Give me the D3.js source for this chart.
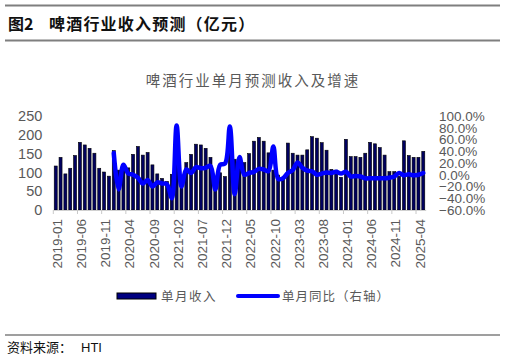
<!DOCTYPE html>
<html><head><meta charset="utf-8">
<script src="https://cdn.jsdelivr.net/npm/d3@7"></script>
<style>body{margin:0;background:#fff}svg{display:block}</style>
</head><body><svg id="c" width="506" height="359"></svg>
<script>
const months = ["2019-01","2019-02","2019-03","2019-04","2019-05","2019-06","2019-07","2019-08","2019-09","2019-10","2019-11","2019-12",
"2020-01","2020-02","2020-03","2020-04","2020-05","2020-06","2020-07","2020-08","2020-09","2020-10","2020-11","2020-12",
"2021-01","2021-02","2021-03","2021-04","2021-05","2021-06","2021-07","2021-08","2021-09","2021-10","2021-11","2021-12",
"2022-01","2022-02","2022-03","2022-04","2022-05","2022-06","2022-07","2022-08","2022-09","2022-10","2022-11","2022-12",
"2023-01","2023-02","2023-03","2023-04","2023-05","2023-06","2023-07","2023-08","2023-09","2023-10","2023-11","2023-12",
"2024-01","2024-02","2024-03","2024-04","2024-05","2024-06","2024-07","2024-08","2024-09","2024-10","2024-11","2024-12",
"2025-01","2025-02","2025-03","2025-04","2025-05"];
const revenue = [117,140,96,111,145,180,173,164,151,111,101,90,
158,106,115,112,148,169,146,153,120,96,84,76,
95,195,93,126,148,175,173,164,140,71,99,89,
173,135,122,126,150,183,193,183,152,106,93,86,
178,151,146,146,160,195,191,179,159,108,106,87,
188,142,142,140,151,180,176,166,146,102,102,90,
184,145,140,140,156];
const yoy = [null,null,null,null,null,null,null,null,null,null,null,null,
37,-25,17,2,0,-5,-15,-9,-20,-13,-15,-16,
-40,84,-20,9,3,13,11,12,15,-25,17,19,
82,-33,30,0,3,5,10,9,6,48,-7,-6,
3,8,21,12,7,6,0,2,4,3,5,2,
5,-3,-2,-3,-6,-6,-6,-6,-6,-5,-3,3,
-1,1,-1,0,3];
const leftTicks = [0,50,100,150,200,250];
const rightTicks = [-60,-40,-20,0,20,40,60,80,100];
const labelEvery = 5;

const svg = d3.select("#c");
const sans = "'Liberation Sans', Arial, sans-serif";
const cjk = "'Noto Sans CJK SC', sans-serif";

// header rules & title
svg.append("line").attr("x1",5).attr("x2",500).attr("y1",5.5).attr("y2",5.5).attr("stroke","#7f7f7f").attr("stroke-width",2);
svg.append("line").attr("x1",5).attr("x2",500).attr("y1",40.5).attr("y2",40.5).attr("stroke","#7f7f7f").attr("stroke-width",2);
svg.append("text").attr("x",8).attr("y",30).attr("font-family",cjk).attr("font-weight","bold").attr("font-size",16).attr("fill","#111").text("图2");
svg.append("text").attr("x",49).attr("y",30).attr("font-family",cjk).attr("font-weight","bold").attr("font-size",16).attr("letter-spacing",1.2).attr("fill","#111").text("啤酒行业收入预测（亿元）");

// chart title
svg.append("text").attr("x",253).attr("y",86).attr("text-anchor","middle").attr("font-family",cjk).attr("font-size",14.5).attr("letter-spacing",2).attr("fill","#595959").text("啤酒行业单月预测收入及增速");

const x0 = 53.3, x1 = 425.7, yTop = 116, yBot = 210;
const x = d3.scaleBand().domain(months).range([x0,x1]).paddingInner(0.38).paddingOuter(0.19);
const yL = d3.scaleLinear().domain([0,250]).range([yBot,yTop]);
const yR = d3.scaleLinear().domain([-60,100]).range([yBot,yTop]);
const step = x.step();

// left axis
const gL = svg.append("g").attr("transform",`translate(${x0-6},0)`)
  .call(d3.axisLeft(yL).tickValues(leftTicks).tickSize(0).tickPadding(5));
gL.select(".domain").remove();
gL.selectAll("text").attr("font-family",sans).attr("font-size",14.5).attr("fill","#595959");

// right axis
const gR = svg.append("g").attr("transform",`translate(${438},0)`)
  .call(d3.axisRight(yR).tickValues(rightTicks).tickSize(0).tickPadding(1).tickFormat(d=>d3.format(".1f")(d)+"%"));
gR.select(".domain").remove();
gR.selectAll("text").attr("font-family",sans).attr("font-size",13.5).attr("fill","#595959");

// bars
svg.append("g").selectAll("rect").data(months).join("rect")
  .attr("x",d=>x(d)).attr("width",x.bandwidth())
  .attr("y",(d,i)=>yL(revenue[i])).attr("height",(d,i)=>yBot-yL(revenue[i]))
  .attr("fill","#000060").attr("stroke","#000").attr("stroke-width",0.6);

// x axis
const gX = svg.append("g").attr("transform",`translate(0,${yBot})`)
  .call(d3.axisBottom(x).tickValues(months.filter((d,i)=>i%labelEvery===0)).tickSize(4).tickSizeOuter(0).tickPadding(8));
gX.select(".domain").attr("stroke","#d0d0d0").attr("stroke-width",1);
gX.selectAll(".tick line").attr("stroke","#c8c8c8").attr("transform",`translate(${-step/2},0)`);
gX.selectAll(".tick text").attr("font-family",sans).attr("font-size",13.5).attr("fill","#595959")
  .attr("transform","rotate(-90)").attr("text-anchor","end").attr("dy","0.35em").attr("dx","0").attr("x",-9).attr("y",1.5);

// line
const line = d3.line().defined(d=>d.v!==null)
  .x(d=>x(d.m)+x.bandwidth()/2).y(d=>yR(d.v)).curve(d3.curveCatmullRom.alpha(0.5));
svg.append("path").datum(months.map((m,i)=>({m,v:yoy[i]})))
  .attr("d",line).attr("fill","none").attr("stroke","#0000ff").attr("stroke-width",4.5).attr("stroke-linejoin","round").attr("stroke-linecap","round");

// legend
svg.append("rect").attr("x",117).attr("y",293).attr("width",39).attr("height",6).attr("fill","#000080").attr("stroke","#000").attr("stroke-width",1);
svg.append("text").attr("x",161).attr("y",300.5).attr("font-family",cjk).attr("font-size",12.5).attr("letter-spacing",1.5).attr("fill","#595959").text("单月收入");
svg.append("line").attr("x1",238).attr("x2",278).attr("y1",296).attr("y2",296).attr("stroke","#0000ff").attr("stroke-width",4).attr("stroke-linecap","round");
svg.append("text").attr("x",282).attr("y",300.5).attr("font-family",cjk).attr("font-size",12.5).attr("letter-spacing",1).attr("fill","#595959").text("单月同比（右轴）");

// footer
svg.append("line").attr("x1",5).attr("x2",500).attr("y1",335).attr("y2",335).attr("stroke","#7f7f7f").attr("stroke-width",1.5);
svg.append("text").attr("x",7).attr("y",352).attr("font-family",cjk).attr("font-size",13).attr("fill","#111").text("资料来源：");
svg.append("text").attr("x",81).attr("y",352).attr("font-family",sans).attr("font-size",13).attr("fill","#111").text("HTI");
</script></body></html>
